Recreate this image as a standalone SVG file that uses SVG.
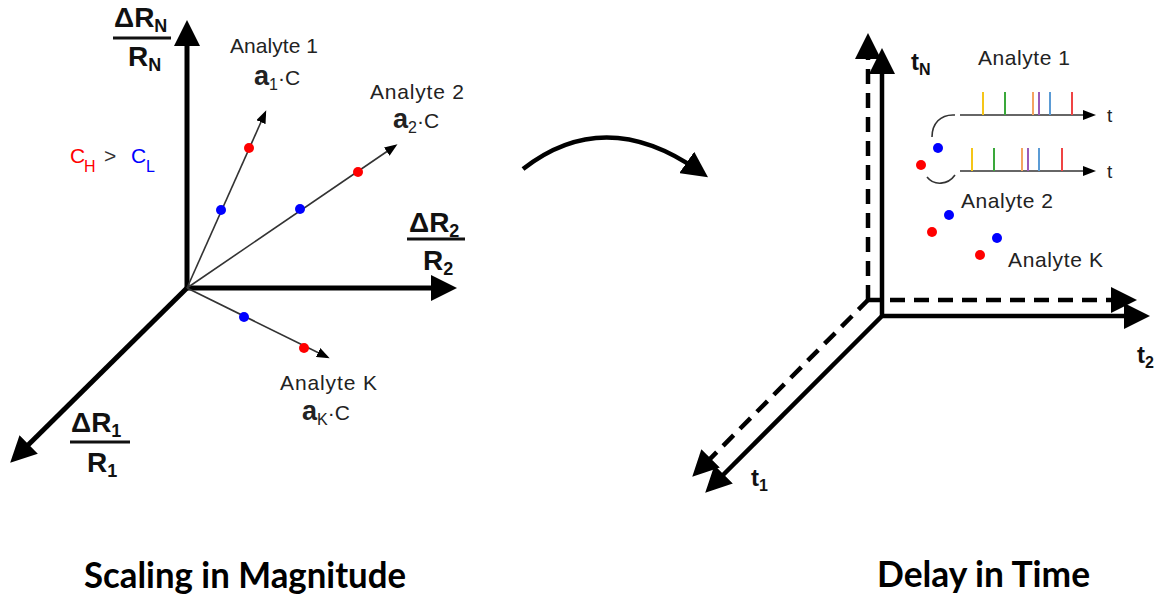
<svg xmlns="http://www.w3.org/2000/svg" width="1159" height="601" viewBox="0 0 1159 601">
<style>
.ax{stroke:#000;stroke-width:5;fill:none}
.axr{stroke:#000;stroke-width:4.5;fill:none}
.dash{stroke-dasharray:15 9}
.thin{stroke:#333;stroke-width:1.6;fill:none}
.lbl{font-family:"Liberation Sans",Arial,sans-serif;fill:#222}
.big{font-family:"Liberation Sans",Arial,sans-serif;font-weight:bold;fill:#111}
.cap{font-family:Lato,"Open Sans",sans-serif;font-weight:bold;fill:#000}
.red{fill:#f00}
.blue{fill:#00f}
.frac{stroke:#111;stroke-width:3}
</style>
<defs>
<marker id="big" viewBox="0 0 26 26" refX="15" refY="13" markerWidth="26" markerHeight="26" markerUnits="userSpaceOnUse" orient="auto"><path d="M0,0 L26,13 L0,26 z" fill="#000"/></marker>
<marker id="sm" viewBox="0 0 13 10" refX="10" refY="5" markerWidth="13" markerHeight="10" markerUnits="userSpaceOnUse" orient="auto"><path d="M0,0 L13,5 L0,10 z" fill="#000"/></marker>
</defs>

<g id="connectors">
  <line class="ax" x1="187" y1="290" x2="187" y2="31" marker-end="url(#big)"/>
  <line class="ax" x1="185" y1="288" x2="446" y2="288" marker-end="url(#big)"/>
  <line class="ax" x1="189" y1="286" x2="18" y2="455" marker-end="url(#big)"/>
  <line class="thin" x1="187" y1="288" x2="265" y2="113" marker-end="url(#sm)"/>
  <line class="thin" x1="187" y1="288" x2="395" y2="146" marker-end="url(#sm)"/>
  <line class="thin" x1="187" y1="288" x2="327" y2="357" marker-end="url(#sm)"/>
  <path class="axr" d="M523,169 Q605,105 699,171" marker-end="url(#big)"/>
  <line class="axr dash" x1="868" y1="300" x2="868" y2="44" marker-end="url(#big)"/>
  <line class="axr dash" x1="866" y1="300" x2="1126" y2="300" marker-end="url(#big)"/>
  <line class="axr dash" x1="869" y1="299" x2="700" y2="469" marker-end="url(#big)"/>
  <line class="axr" x1="882" y1="318" x2="882" y2="59" marker-end="url(#big)"/>
  <line class="axr" x1="880" y1="316" x2="1139" y2="316" marker-end="url(#big)"/>
  <line class="axr" x1="883" y1="315" x2="713" y2="485" marker-end="url(#big)"/>
  <line class="thin" x1="960" y1="115" x2="1093" y2="115" marker-end="url(#sm)"/>
  <line class="thin" x1="960" y1="171" x2="1093" y2="171" marker-end="url(#sm)"/>
  <path class="thin" d="M955,115 C940,114 932,124 932,137"/>
  <path class="thin" d="M927,177 C934,186 948,185 955,175"/>
</g>

<g id="axis-left-N">
  <text class="big" x="114" y="27" font-size="28">ΔR<tspan font-size="18" dy="5">N</tspan></text>
  <line class="frac" x1="113" y1="38" x2="171" y2="38"/>
  <text class="big" x="128" y="66" font-size="28">R<tspan font-size="18" dy="5">N</tspan></text>
</g>
<g id="axis-left-2">
  <text class="big" x="409" y="232" font-size="28">ΔR<tspan font-size="18" dy="5">2</tspan></text>
  <line class="frac" x1="407" y1="239" x2="465" y2="239"/>
  <text class="big" x="423" y="270" font-size="28">R<tspan font-size="18" dy="5">2</tspan></text>
</g>
<g id="axis-left-1">
  <text class="big" x="71" y="432" font-size="28">ΔR<tspan font-size="18" dy="5">1</tspan></text>
  <line class="frac" x1="70" y1="442" x2="130" y2="442"/>
  <text class="big" x="87" y="472" font-size="28">R<tspan font-size="18" dy="5">1</tspan></text>
</g>

<g id="legend-conc">
  <text class="lbl" x="70" y="163" font-size="21" fill="#f00" style="fill:#f00">C</text>
  <text class="lbl" x="84" y="172" font-size="16" style="fill:#f00">H</text>
  <text class="lbl" x="104" y="163" font-size="21" style="fill:#333">&gt;</text>
  <text class="lbl" x="131" y="163" font-size="21" style="fill:#00f">C</text>
  <text class="lbl" x="146" y="172" font-size="16" style="fill:#00f">L</text>
</g>

<g id="analyte-1-left">
  <text class="lbl" x="230" y="53" font-size="21" textLength="88">Analyte 1</text>
  <text class="lbl" x="254" y="85" font-size="21"><tspan font-weight="bold" font-size="27">a</tspan><tspan font-size="16" dy="5">1</tspan><tspan dy="-5">·C</tspan></text>
  <circle class="red" cx="249" cy="148" r="5"/>
  <circle class="blue" cx="221" cy="210" r="5"/>
</g>
<g id="analyte-2-left">
  <text class="lbl" x="370" y="99" font-size="21" textLength="94">Analyte 2</text>
  <text class="lbl" x="393" y="128" font-size="21"><tspan font-weight="bold" font-size="27">a</tspan><tspan font-size="16" dy="5">2</tspan><tspan dy="-5">·C</tspan></text>
  <circle class="red" cx="358" cy="172" r="5"/>
  <circle class="blue" cx="300" cy="209" r="5"/>
</g>
<g id="analyte-k-left">
  <text class="lbl" x="280" y="390" font-size="21" textLength="97">Analyte K</text>
  <text class="lbl" x="302" y="420" font-size="21"><tspan font-weight="bold" font-size="27">a</tspan><tspan font-size="16" dy="5">K</tspan><tspan dy="-5">·C</tspan></text>
  <circle class="blue" cx="244" cy="317" r="5"/>
  <circle class="red" cx="304" cy="348" r="5"/>
</g>

<g id="axis-right-labels">
  <text class="big" x="911" y="70" font-size="24">t<tspan font-size="16" dy="5">N</tspan></text>
  <text class="big" x="1137" y="363" font-size="24">t<tspan font-size="16" dy="5">2</tspan></text>
  <text class="big" x="751" y="486" font-size="24">t<tspan font-size="16" dy="5">1</tspan></text>
</g>

<g id="analyte-1-right">
  <text class="lbl" x="978" y="65" font-size="21" textLength="92">Analyte 1</text>
  <g stroke-width="2">
    <line x1="983" y1="92" x2="983" y2="115" stroke="#f5c518"/>
    <line x1="1005" y1="92" x2="1005" y2="115" stroke="#3aa83a"/>
    <line x1="1033" y1="92" x2="1033" y2="115" stroke="#f4a460"/>
    <line x1="1039" y1="92" x2="1039" y2="115" stroke="#9b59b6"/>
    <line x1="1050" y1="92" x2="1050" y2="115" stroke="#5b9bd5"/>
    <line x1="1072" y1="92" x2="1072" y2="115" stroke="#ef4444"/>
    <line x1="972" y1="148" x2="972" y2="171" stroke="#f5c518"/>
    <line x1="994" y1="148" x2="994" y2="171" stroke="#3aa83a"/>
    <line x1="1022" y1="148" x2="1022" y2="171" stroke="#f4a460"/>
    <line x1="1028" y1="148" x2="1028" y2="171" stroke="#9b59b6"/>
    <line x1="1039" y1="148" x2="1039" y2="171" stroke="#5b9bd5"/>
    <line x1="1062" y1="148" x2="1062" y2="171" stroke="#ef4444"/>
  </g>
  <text class="lbl" x="1107" y="122" font-size="19">t</text>
  <text class="lbl" x="1107" y="178" font-size="19">t</text>
  <circle class="blue" cx="938" cy="148" r="5"/>
  <circle class="red" cx="921" cy="165" r="5"/>
</g>
<g id="analyte-2-right">
  <text class="lbl" x="961" y="208" font-size="21" textLength="92">Analyte 2</text>
  <circle class="blue" cx="949" cy="215" r="5"/>
  <circle class="red" cx="932" cy="232" r="5"/>
</g>
<g id="analyte-k-right">
  <text class="lbl" x="1008" y="267" font-size="21" textLength="95">Analyte K</text>
  <circle class="blue" cx="997" cy="238" r="5"/>
  <circle class="red" cx="980" cy="255" r="5"/>
</g>

<g id="captions">
  <text class="cap" x="84" y="588" font-size="36" textLength="322" lengthAdjust="spacingAndGlyphs">Scaling in Magnitude</text>
  <text class="cap" x="877" y="587" font-size="36" textLength="213" lengthAdjust="spacingAndGlyphs">Delay in Time</text>
</g>
</svg>
